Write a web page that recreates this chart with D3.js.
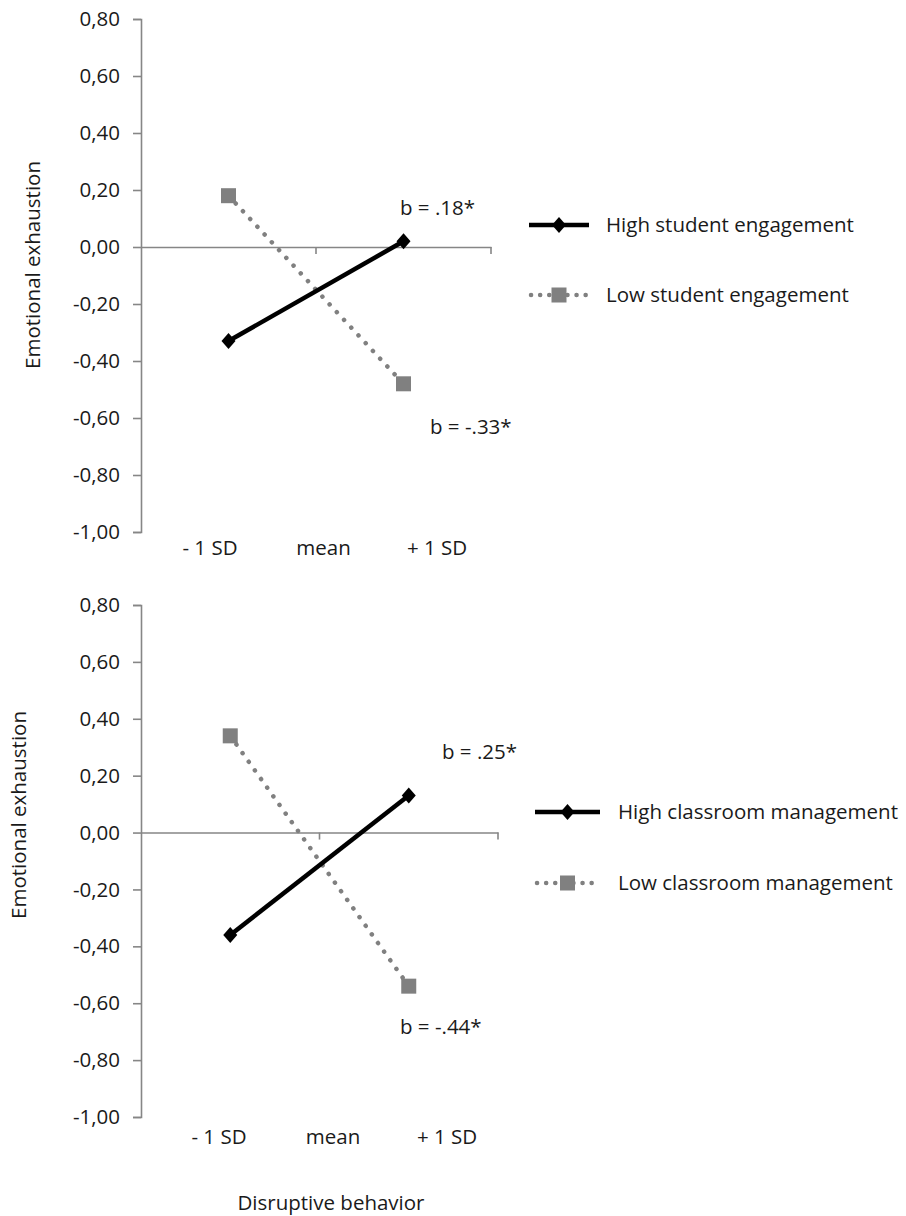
<!DOCTYPE html>
<html>
<head>
<meta charset="utf-8">
<script src="https://cdn.jsdelivr.net/npm/d3@7/dist/d3.min.js"></script>
<style>
  html, body { margin: 0; padding: 0; background: #fff; }
  svg { display: block; }
  text { font-family: "Open Sans", "Noto Sans", sans-serif; fill: #1a1a1a; }
</style>
</head>
<body>
<svg id="chart" width="906" height="1216"></svg>
<script>
// ---- Data ----
const categories = ["-1 SD", "+1 SD"];
const xLabels = ["- 1 SD", "mean", "+ 1 SD"];
const yTicks = [0.8, 0.6, 0.4, 0.2, 0.0, -0.2, -0.4, -0.6, -0.8, -1.0];

const topHigh = [-0.33, 0.02];
const topLow = [0.18, -0.48];
const topSeriesNames = ["High student engagement", "Low student engagement"];
const topSlopes = ["b = .18*", "b = -.33*"];

const botHigh = [-0.36, 0.13];
const botLow = [0.34, -0.54];
const botSeriesNames = ["High classroom management", "Low classroom management"];
const botSlopes = ["b = .25*", "b = -.44*"];

const yTitle = "Emotional exhaustion";
const xTitle = "Disruptive behavior";

// ---- Drawing ----
const svg = d3.select("#chart");
const fmt = v => d3.format(".2f")(v).replace(".", ",").replace("−", "-");
const FS = 20.5;

const panels = [
  {
    high: topHigh, low: topLow, names: topSeriesNames, slopes: topSlopes,
    x0: 141, x1: 491, yT: 19, yB: 532,
    labelRange: [210, 437], labelY: 548,
    yTitleX: 33, yTitleY: 265,
    legX: 529, legLen: 60, legTextX: 606, legY: [225, 295],
    slopePos: [[400, 208], [430, 427]]
  },
  {
    high: botHigh, low: botLow, names: botSeriesNames, slopes: botSlopes,
    x0: 141, x1: 498, yT: 605, yB: 1117,
    labelRange: [219, 447], labelY: 1137,
    yTitleX: 19, yTitleY: 815,
    legX: 535, legLen: 65, legTextX: 618, legY: [812, 883],
    slopePos: [[442, 752], [400, 1027]]
  }
];

const axisColor = "#868686";
const lowColor = "#808080";

panels.forEach(p => {
  const g = svg.append("g");
  const y = d3.scaleLinear().domain([-1, 0.8]).range([p.yB, p.yT]);
  const x = d3.scaleBand().domain(categories).range([p.x0, p.x1]).padding(0);
  const xl = d3.scalePoint().domain(xLabels).range(p.labelRange);

  // y axis
  const yAxis = d3.axisLeft(y).tickValues(yTicks).tickFormat(fmt).tickSize(8).tickPadding(13);
  const ya = g.append("g").attr("transform", `translate(${p.x0},0)`).call(yAxis);
  ya.select(".domain").attr("stroke", axisColor).attr("stroke-width", 1.6);
  ya.selectAll(".tick line").attr("stroke", axisColor).attr("stroke-width", 1.6);
  ya.selectAll(".tick text").attr("font-size", FS).attr("fill", "#1a1a1a")
    .style("font-family", '"Open Sans", sans-serif');

  // x axis at zero line
  const xAxis = d3.axisBottom(x).tickValues([]).tickSizeOuter(0);
  const xa = g.append("g").attr("transform", `translate(0,${y(0)})`).call(xAxis);
  xa.select(".domain").attr("stroke", axisColor).attr("stroke-width", 1.6);
  // ticks at band boundaries
  const bounds = [x(categories[0]) + x.bandwidth(), x(categories[1]) + x.bandwidth()];
  g.selectAll(".xtick").data(bounds).join("line")
    .attr("x1", d => d).attr("x2", d => d)
    .attr("y1", y(0)).attr("y2", y(0) + 7)
    .attr("stroke", axisColor).attr("stroke-width", 1.6);

  // category labels
  g.selectAll(".xlab").data(xLabels).join("text")
    .attr("x", d => xl(d)).attr("y", p.labelY).attr("dy", "0.35em")
    .attr("text-anchor", "middle").attr("font-size", FS).text(d => d);

  // y title
  g.append("text")
    .attr("transform", `translate(${p.yTitleX},${p.yTitleY}) rotate(-90)`)
    .attr("text-anchor", "middle").attr("dy", "0.35em")
    .attr("font-size", FS).text(yTitle);

  const cx = d => x(d) + x.bandwidth() / 2;
  const line = d3.line().x((d, i) => cx(categories[i])).y(d => y(d));

  // low series (dotted)
  g.append("path").datum(p.low).attr("d", line)
    .attr("fill", "none").attr("stroke", lowColor).attr("stroke-width", 4.5)
    .attr("stroke-linecap", "round").attr("stroke-dasharray", "0.1 10.5");
  g.selectAll(".sq").data(p.low).join("rect")
    .attr("x", (d, i) => cx(categories[i]) - 7.5).attr("y", d => y(d) - 7.5)
    .attr("width", 15).attr("height", 15).attr("fill", lowColor);

  // high series (solid)
  g.append("path").datum(p.high).attr("d", line)
    .attr("fill", "none").attr("stroke", "#000").attr("stroke-width", 4.5);
  const diamond = "M0,-8L7,0L0,8L-7,0Z";
  g.selectAll(".dm").data(p.high).join("path")
    .attr("d", diamond)
    .attr("transform", (d, i) => `translate(${cx(categories[i])},${y(d)})`)
    .attr("fill", "#000");

  // slope annotations
  g.selectAll(".slope").data(p.slopes).join("text")
    .attr("x", (d, i) => p.slopePos[i][0]).attr("y", (d, i) => p.slopePos[i][1])
    .attr("dy", "0.35em").attr("font-size", FS).text(d => d);

  // legend
  const lg = g.append("g");
  const mid = p.legX + p.legLen / 2;
  // high
  lg.append("line").attr("x1", p.legX).attr("x2", p.legX + p.legLen)
    .attr("y1", p.legY[0]).attr("y2", p.legY[0])
    .attr("stroke", "#000").attr("stroke-width", 4.5);
  lg.append("path").attr("d", diamond)
    .attr("transform", `translate(${mid},${p.legY[0]})`).attr("fill", "#000");
  lg.append("text").attr("x", p.legTextX).attr("y", p.legY[0]).attr("dy", "0.35em")
    .attr("font-size", FS).text(p.names[0]);
  // low
  lg.append("line").attr("x1", p.legX + 2).attr("x2", p.legX + p.legLen)
    .attr("y1", p.legY[1]).attr("y2", p.legY[1])
    .attr("stroke", lowColor).attr("stroke-width", 4.5)
    .attr("stroke-linecap", "round").attr("stroke-dasharray", "0.1 9");
  lg.append("rect").attr("x", mid - 7.5).attr("y", p.legY[1] - 7.5)
    .attr("width", 15).attr("height", 15).attr("fill", lowColor);
  lg.append("text").attr("x", p.legTextX).attr("y", p.legY[1]).attr("dy", "0.35em")
    .attr("font-size", FS).text(p.names[1]);
});

svg.append("text").attr("x", 331).attr("y", 1203).attr("dy", "0.35em")
  .attr("text-anchor", "middle").attr("font-size", FS).text(xTitle);
</script>
</body>
</html>
